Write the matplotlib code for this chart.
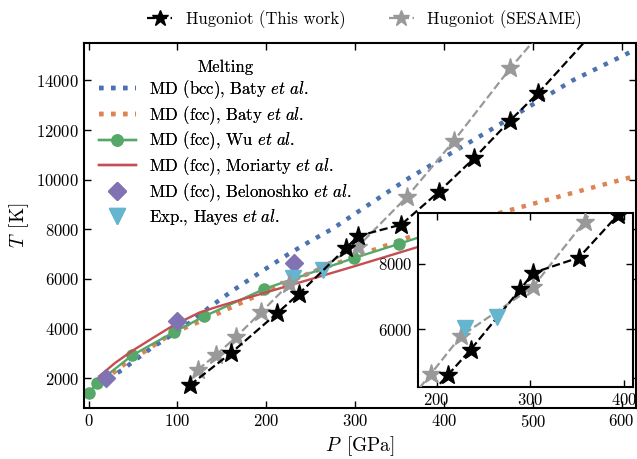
import numpy as np
import matplotlib
matplotlib.use('Agg')
from matplotlib import pyplot as plt

plt.rcParams['font.family'] = 'cmr10'
plt.rcParams['mathtext.fontset'] = 'cm'
plt.rcParams['axes.formatter.use_mathtext'] = True
plt.rcParams['font.size'] = 12

# Hugoniot (este trabajo) y SESAME
hug_P = [114, 160.5, 212, 236.5, 289.5, 303.5, 352, 394, 434.5, 474.5, 506.5, 580]
hug_T = [1720, 3020, 4610, 5390, 7230, 7730, 8190, 9500, 10880, 12380, 13500, 16400]
ses_P = [123, 143, 166, 194, 226, 303, 358, 411, 475, 530]
ses_T = [2350, 2920, 3660, 4650, 5800, 7300, 9290, 11550, 14500, 16800]

# Curvas de fusion
bcc_P = [10, 38, 70, 107, 135, 161, 196, 225, 249, 275, 298, 360, 450, 545, 615]
bcc_T = [1700, 2340, 3200, 4050, 4830, 5500, 6330, 7000, 7510, 8030, 8580, 10050, 11950, 14000, 15230]
fcc_P = [5, 20, 40, 62, 86, 100, 138, 200, 250, 300, 365, 467, 540, 615]
fcc_T = [1650, 2000, 2550, 3050, 3620, 3900, 4480, 5500, 6250, 6900, 7740, 8700, 9420, 10140]
wu_P = [0, 10, 49, 96, 130, 198, 299, 350, 400]
wu_T = [1400, 1820, 2920, 3860, 4490, 5600, 6845, 7420, 8000]
mor_P = [12, 30, 49, 75, 96, 125, 145, 175, 200, 250, 300, 370]
mor_T = [2080, 2620, 3100, 3680, 4140, 4650, 4880, 5200, 5460, 5990, 6520, 7280]
bel_P = [20, 100, 231]
bel_T = [2030, 4310, 6630]
hay_P = [230, 264]
hay_T = [6050, 6370]

dots = (0, (1, 1.7))

fig = plt.figure(figsize=(6.37, 4.59), dpi=100)
ax = fig.add_axes([0.132, 0.111, 0.866, 0.795])

l_bcc, = ax.plot(bcc_P, bcc_T, ls=dots, color='#4C72B0', lw=3.2, label=r'MD (bcc), Baty $\mathit{et\ al.}$')
l_fcc, = ax.plot(fcc_P, fcc_T, ls=dots, color='#DD8452', lw=3.2, label=r'MD (fcc), Baty $\mathit{et\ al.}$')
l_wu, = ax.plot(wu_P, wu_T, '-o', color='#55A868', lw=1.7, ms=8, label=r'MD (fcc), Wu $\mathit{et\ al.}$')
l_mor, = ax.plot(mor_P, mor_T, '-', color='#C44E52', lw=1.7, label=r'MD (fcc), Moriarty $\mathit{et\ al.}$')
l_bel, = ax.plot(bel_P, bel_T, 'D', color='#8172B3', ms=9, ls='none', label=r'MD (fcc), Belonoshko $\mathit{et\ al.}$')
l_hay, = ax.plot(hay_P, hay_T, 'v', color='#64B5CD', ms=12, ls='none', label=r'Exp., Hayes $\mathit{et\ al.}$')
l_hug, = ax.plot(hug_P, hug_T, '--*', color='k', lw=1.6, ms=14, label='Hugoniot (This work)', zorder=5)
l_ses, = ax.plot(ses_P, ses_T, '--*', color='#999999', lw=1.6, ms=14, label='Hugoniot (SESAME)', zorder=4)

ax.set_xlim(-5, 616)
ax.set_ylim(800, 15500)
ax.set_xticks(np.arange(0, 601, 100))
ax.set_yticks(np.arange(2000, 14001, 2000))
ax.tick_params(direction='in', top=True, right=True, length=5, width=1)
for s in ax.spines.values():
    s.set_linewidth(1.5)
ax.set_xlabel(r'$P\enspace\mathrm{[GPa]}$', fontsize=14, labelpad=3)
ax.set_ylabel(r'$T\enspace\mathrm{[K]}$', fontsize=14)

leg1 = ax.legend(handles=[l_bcc, l_fcc, l_wu, l_mor, l_bel, l_hay], title='Melting',
                 loc='upper left', bbox_to_anchor=(0.0, 0.995), frameon=False,
                 labelspacing=0.18, handlelength=2.2, fontsize=12, title_fontsize=12)
ax.add_artist(leg1)
fig.legend(handles=[l_hug, l_ses], loc='lower center', bbox_to_anchor=(0.572, 0.905),
           ncol=2, frameon=False, handlelength=1.5, markerscale=0.85, columnspacing=2.6, fontsize=12)

# Recuadro ampliado
axin = fig.add_axes([0.656, 0.157, 0.338, 0.379])
axin.plot(hug_P, hug_T, '--*', color='k', lw=1.6, ms=14, zorder=5)
axin.plot(ses_P, ses_T, '--*', color='#999999', lw=1.6, ms=14, zorder=4)
axin.plot(hay_P, hay_T, 'v', color='#64B5CD', ms=12, ls='none', zorder=6)
axin.set_xlim(180, 410)
axin.set_ylim(4250, 9550)
axin.set_xticks([200, 300, 400])
axin.set_yticks([6000, 8000])
axin.tick_params(direction='in', top=True, right=True, length=5, width=1)
for s in axin.spines.values():
    s.set_linewidth(1.5)

fig.savefig('out.png', dpi=100)
